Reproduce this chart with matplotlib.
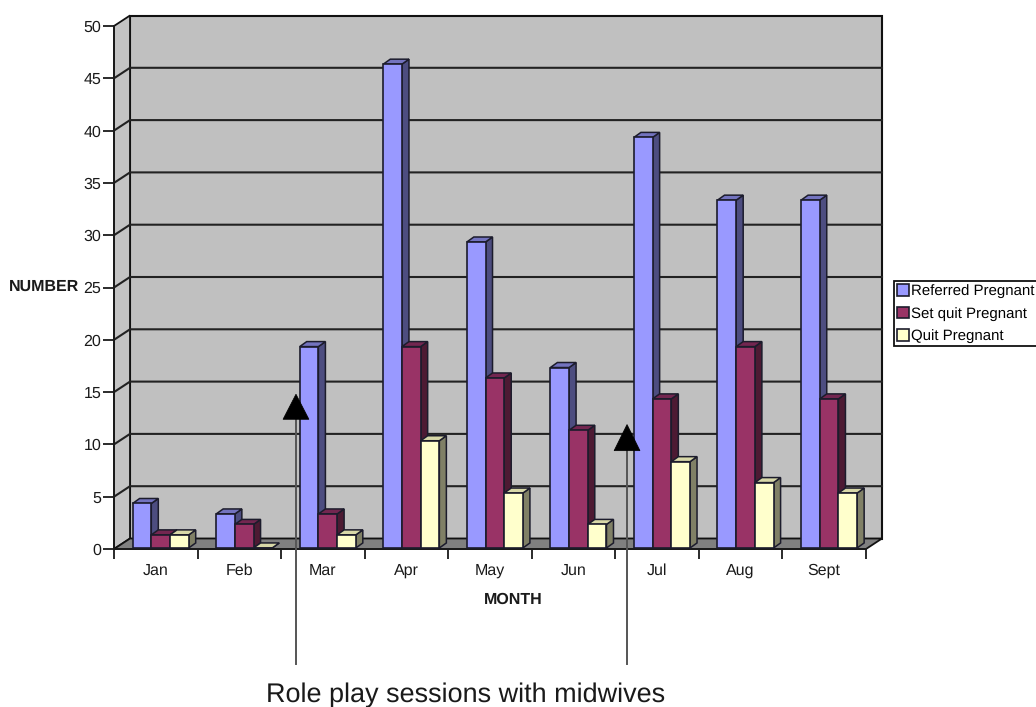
import numpy as np
import matplotlib
matplotlib.use('Agg')
import matplotlib.pyplot as plt
from matplotlib.patches import Polygon

plt.rcParams['font.family'] = ['Liberation Sans', 'DejaVu Sans']
plt.rcParams['text.hinting'] = 'none'
plt.rcParams['text.hinting_factor'] = 1

months = ['Jan', 'Feb', 'Mar', 'Apr', 'May', 'Jun', 'Jul', 'Aug', 'Sept']
referred = [4, 3, 19, 46, 29, 17, 39, 33, 33]
set_quit = [1, 2, 3, 19, 16, 11, 14, 19, 14]
quit_preg = [1, 0, 1, 10, 5, 2, 8, 6, 5]
series_names = ['Referred Pregnant', 'Set quit Pregnant', 'Quit Pregnant']
y_ticks = [0, 5, 10, 15, 20, 25, 30, 35, 40, 45, 50]

W, H = 1036, 707
# front plane of the fake 3D box, in pixels
left, right, top, bottom = 114, 866, 26, 549

fig = plt.figure(figsize=(W / 100, H / 100), dpi=100)
ax = fig.add_axes([left / W, 1 - bottom / H, (right - left) / W, (bottom - top) / H])
ax.set_xlim(0, len(months))
ax.set_ylim(0, 50)
ax.patch.set_visible(False)
for s in ['top', 'right']:
    ax.spines[s].set_visible(False)
for s in ['left', 'bottom']:
    ax.spines[s].set_linewidth(1.3)
    ax.spines[s].set_color('#1a1a1a')

# depth of the box and of the bars, in data units
per_x = (right - left) / len(months)
per_y = (bottom - top) / 50
box_dx, box_dy = 16 / per_x, 10.5 / per_y
bar_dx, bar_dy = 7 / per_x, 5 / per_y
edge = '#1c1c2c'
n = len(months)

# walls and floor
ax.add_patch(Polygon([(box_dx, box_dy), (n + box_dx, box_dy), (n + box_dx, 50 + box_dy), (box_dx, 50 + box_dy)],
                     fc='#c0c0c0', ec='#111111', lw=1.5, clip_on=False, zorder=1))
ax.add_patch(Polygon([(0, 0), (box_dx, box_dy), (box_dx, 50 + box_dy), (0, 50)],
                     fc='#c4c4c4', ec='#111111', lw=1.3, clip_on=False, zorder=1))
ax.add_patch(Polygon([(0, 0), (n, 0), (n + box_dx, box_dy), (box_dx, box_dy)],
                     fc='#808080', ec='#111111', lw=1.3, clip_on=False, zorder=1))
for t in y_ticks[1:-1]:
    ax.plot([0, box_dx, n + box_dx], [t, t + box_dy, t + box_dy], color='#222222', lw=1.5,
            clip_on=False, zorder=2)

# bars
bar_w = 18.7 / per_x
start = 18.6 / per_x
lift_base, lift_top = 0.1, 0.35
series = [referred, set_quit, quit_preg]
front = ['#9999ff', '#993366', '#ffffcc']
side = ['#4d4d80', '#4d1a33', '#808066']
cap = ['#7373bf', '#732650', '#d8d8a8']
handles = []
for i, vals in enumerate(series):
    xs = np.arange(n) + start + i * bar_w
    z = 3 + i
    tops = [v + lift_top if v > 0 else lift_base for v in vals]
    for x, v in zip(xs, tops):
        ax.add_patch(Polygon([(x + bar_w, v), (x + bar_w + bar_dx, v + bar_dy),
                              (x + bar_w + bar_dx, lift_base + bar_dy), (x + bar_w, lift_base)],
                             fc=side[i], ec=edge, lw=1.1, clip_on=False, zorder=z))
        ax.add_patch(Polygon([(x, v), (x + bar_dx, v + bar_dy), (x + bar_w + bar_dx, v + bar_dy), (x + bar_w, v)],
                             fc=cap[i], ec=edge, lw=1.1, clip_on=False, zorder=z))
    heights = [t - lift_base for t in tops]
    b = ax.bar(xs, heights, bar_w, bottom=lift_base, align='edge', color=front[i], edgecolor=edge, lw=1.2,
               zorder=z + 0.5, label=series_names[i])
    handles.append(b)

# axes ticks and titles
ax.set_xticks(np.arange(n + 1))
ax.set_xticklabels([])
ax.set_xticks(np.arange(n) + 0.5, months, minor=True)
ax.tick_params(axis='x', which='major', length=7, width=1.3, color='#1a1a1a')
ax.tick_params(axis='x', which='minor', length=0, pad=10, labelsize=11.5, labelcolor='#1a1a1a')
ax.set_yticks(y_ticks)
ax.tick_params(axis='y', length=8, width=1.3, color='#1a1a1a', pad=1, labelsize=11.5, labelcolor='#1a1a1a')
fig.text(44 / W, 1 - 287 / H, 'NUMBER', fontsize=11.3, fontweight='bold', color='#1a1a1a', ha='center', va='center')
fig.text(513 / W, 1 - 600 / H, 'MONTH', fontsize=11.5, fontweight='bold', color='#1a1a1a', ha='center', va='center')

# role play markers
for mx, tip, base in [(2.178, 14.8, 12.4), (6.14, 11.9, 9.4)]:
    ax.plot([mx, mx], [base, -11], color='#555555', lw=1.4, clip_on=False, zorder=8)
    ax.add_patch(Polygon([(mx - 0.155, base), (mx + 0.155, base), (mx, tip)], fc='black', ec='black', lw=0.5,
                         clip_on=False, zorder=9))
fig.text(466 / W, 1 - 695 / H, 'Role play sessions with midwives', fontsize=19.5, color='#1a1a1a',
         ha='center', va='center')

leg = ax.legend(handles=handles, loc='upper left', bbox_to_anchor=(894 / W, 1 - 281 / H),
                bbox_transform=fig.transFigure, fontsize=10.5, frameon=True, fancybox=False, borderpad=0.2,
                handlelength=0.85, handleheight=0.85, handletextpad=0.1, labelspacing=0.6, borderaxespad=0,
                edgecolor='#111111', framealpha=1)
leg.get_frame().set_linewidth(1.3)
leg.set_zorder(10)

fig.savefig('out.png', dpi=100)
